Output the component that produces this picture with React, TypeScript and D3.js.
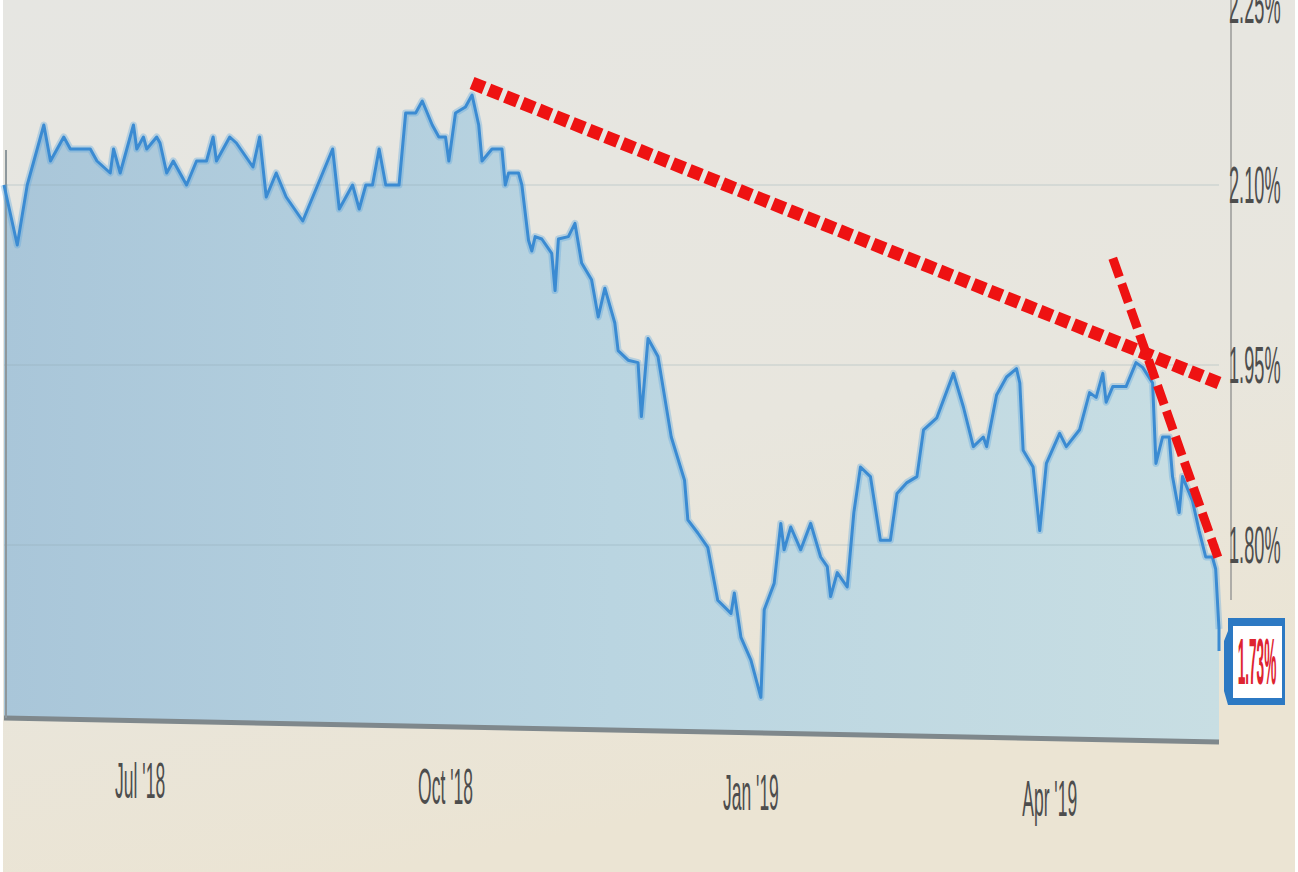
import React from "react";
import * as d3 from "d3";

// ---- data ----
const dates = [
  "2018-05-21","2018-05-25","2018-05-28","2018-06-02","2018-06-04","2018-06-08","2018-06-10","2018-06-16",
  "2018-06-18","2018-06-22","2018-06-23","2018-06-25","2018-06-29","2018-06-30","2018-07-02","2018-07-03",
  "2018-07-06","2018-07-07","2018-07-09","2018-07-11","2018-07-15","2018-07-18","2018-07-21","2018-07-23",
  "2018-07-24","2018-07-28","2018-07-30","2018-08-04","2018-08-06","2018-08-08","2018-08-11","2018-08-14",
  "2018-08-19","2018-08-28","2018-08-30","2018-09-03","2018-09-05","2018-09-07","2018-09-09","2018-09-11",
  "2018-09-13","2018-09-17","2018-09-19","2018-09-22","2018-09-24","2018-09-27","2018-09-29","2018-10-01",
  "2018-10-02","2018-10-04","2018-10-07","2018-10-09","2018-10-11","2018-10-12","2018-10-15","2018-10-18",
  "2018-10-19","2018-10-20","2018-10-23","2018-10-24","2018-10-26","2018-10-27","2018-10-28","2018-10-30",
  "2018-11-02","2018-11-03","2018-11-04","2018-11-07","2018-11-09","2018-11-11","2018-11-14","2018-11-16",
  "2018-11-18","2018-11-21","2018-11-22","2018-11-25","2018-11-28","2018-11-29","2018-12-01","2018-12-04",
  "2018-12-08","2018-12-12","2018-12-13","2018-12-16","2018-12-19","2018-12-22","2018-12-26","2018-12-27",
  "2018-12-29","2019-01-01","2019-01-04","2019-01-05","2019-01-08","2019-01-10","2019-01-11","2019-01-13",
  "2019-01-16","2019-01-19","2019-01-22","2019-01-24","2019-01-25","2019-01-27","2019-01-30","2019-02-01",
  "2019-02-03","2019-02-06","2019-02-09","2019-02-12","2019-02-14","2019-02-17","2019-02-20","2019-02-22",
  "2019-02-26","2019-03-03","2019-03-06","2019-03-09","2019-03-12","2019-03-13","2019-03-16","2019-03-19",
  "2019-03-22","2019-03-23","2019-03-24","2019-03-27","2019-03-29","2019-03-31","2019-04-04","2019-04-06",
  "2019-04-10","2019-04-13","2019-04-15","2019-04-17","2019-04-18","2019-04-20","2019-04-24","2019-04-27",
  "2019-04-29","2019-05-02","2019-05-03","2019-05-05","2019-05-07","2019-05-08","2019-05-10","2019-05-11",
  "2019-05-14","2019-05-16","2019-05-18","2019-05-20","2019-05-21","2019-05-22",
];
const yields = [
  2.10, 2.05, 2.10, 2.15, 2.12, 2.14, 2.13, 2.13,
  2.12, 2.11, 2.13, 2.11, 2.15, 2.13, 2.14, 2.13,
  2.14, 2.135, 2.11, 2.12, 2.10, 2.12, 2.12, 2.14,
  2.12, 2.14, 2.135, 2.115, 2.14, 2.09, 2.11, 2.09,
  2.07, 2.13, 2.08, 2.10, 2.08, 2.10, 2.10, 2.13,
  2.10, 2.10, 2.16, 2.16, 2.17, 2.15, 2.14, 2.14,
  2.12, 2.16, 2.165, 2.175, 2.15, 2.12, 2.13, 2.13,
  2.10, 2.11, 2.11, 2.10, 2.054, 2.045, 2.057, 2.055,
  2.043, 2.012, 2.055, 2.057, 2.068, 2.035, 2.021, 1.99,
  2.014, 1.985, 1.962, 1.954, 1.952, 1.907, 1.972, 1.957,
  1.89, 1.854, 1.821, 1.81, 1.798, 1.754, 1.743, 1.76,
  1.723, 1.704, 1.673, 1.746, 1.768, 1.818, 1.796, 1.815,
  1.796, 1.818, 1.79, 1.782, 1.757, 1.777, 1.765, 1.827,
  1.865, 1.857, 1.804, 1.804, 1.843, 1.852, 1.857, 1.896,
  1.906, 1.943, 1.915, 1.882, 1.89, 1.882, 1.925, 1.94,
  1.947, 1.935, 1.879, 1.865, 1.812, 1.868, 1.893, 1.882,
  1.896, 1.927, 1.923, 1.943, 1.919, 1.932, 1.932, 1.952,
  1.948, 1.935, 1.868, 1.89, 1.89, 1.857, 1.827, 1.857,
  1.837, 1.812, 1.79, 1.79, 1.78, 1.73,
];

// red dashed trend lines drawn on the screen
const trendADates = ["2018-10-09", "2019-05-22"];
const trendAValues = [2.185, 1.935];
const trendBDates = ["2019-04-20", "2019-05-22"];
const trendBValues = [2.039, 1.787];

const yTicks = [1.8, 1.95, 2.1, 2.25];
const yTickLabels = ["1.80%", "1.95%", "2.10%", "2.25%"];
const xTicks = ["2018-07-01", "2018-10-01", "2019-01-01", "2019-04-01"];
const xTickLabels = ["Jul '18", "Oct '18", "Jan '19", "Apr '19"];
const lastLabel = "1.73%";

const W = 1298;
const H = 872;

export default function App() {
  const parse = d3.timeParse("%Y-%m-%d");
  const series = dates.map((d, i) => ({ date: parse(d) as Date, value: yields[i] }));
  const trendA = trendADates.map((d, i) => ({ date: parse(d) as Date, value: trendAValues[i] }));
  const trendB = trendBDates.map((d, i) => ({ date: parse(d) as Date, value: trendBValues[i] }));

  const x = d3
    .scaleTime()
    .domain([parse("2018-05-21") as Date, parse("2019-05-22") as Date])
    .range([4, 1219]);
  const y = d3.scaleLinear().domain([1.8, 2.1]).range([545, 185]);
  // the photographed screen makes the bottom edge slope slightly
  const base = d3.scaleLinear().domain([4, 1219]).range([718, 742]);

  const area = d3
    .area<{ date: Date; value: number }>()
    .x((d) => x(d.date))
    .y0((d) => base(x(d.date)))
    .y1((d) => y(d.value));
  const line = d3
    .line<{ date: Date; value: number }>()
    .x((d) => x(d.date))
    .y((d) => y(d.value));

  const last = series[series.length - 1];
  const boxCY = y(last.value) + 32;
  const x0 = x.range()[0];
  const x1 = x.range()[1];

  return (
    <svg
      width={W}
      height={H}
      style={{ position: "absolute", left: 0, top: 0, display: "block" }}
      fontFamily="'Liberation Sans', Arial, sans-serif"
    >
      <defs>
        <linearGradient id="bg" x1="0" y1="0" x2="0.3" y2="1">
          <stop offset="0" stopColor="#e6e6e2" />
          <stop offset="0.6" stopColor="#e8e6de" />
          <stop offset="1" stopColor="#ebe4d3" />
        </linearGradient>
        <linearGradient id="fill" x1="0" y1="0" x2="1" y2="0">
          <stop offset="0" stopColor="#a9c6d9" />
          <stop offset="0.5" stopColor="#bad5e1" />
          <stop offset="1" stopColor="#c8dee3" />
        </linearGradient>
      </defs>
      <rect x={0} y={0} width={W} height={H} fill="url(#bg)" />
      <rect x={0} y={0} width={3} height={H} fill="#ffffff" />
      <rect x={W - 3} y={0} width={3} height={H} fill="#ffffff" />

      {/* area */}
      <path d={area(series) || ""} fill="url(#fill)" />

      {/* gridlines */}
      {yTicks.slice(0, 3).map((t) => (
        <line
          key={t}
          x1={x0}
          x2={x1}
          y1={y(t)}
          y2={y(t)}
          stroke="#8aa3b0"
          strokeOpacity={0.2}
          strokeWidth={2}
        />
      ))}

      {/* baseline */}
      <line x1={x0} x2={x1} y1={base(x0)} y2={base(x1)} stroke="#7f888c" strokeWidth={5} />
      <line x1={x0 + 2} x2={x0 + 2} y1={150} y2={base(x0)} stroke="#8d979c" strokeWidth={2} />

      {/* right axis line */}
      <line x1={1231} x2={1231} y1={0} y2={600} stroke="#9a9a98" strokeWidth={1.5} />

      {/* series line */}
      <path d={line(series) || ""} fill="none" stroke="#5aa2dc" strokeOpacity={0.35} strokeWidth={7} strokeLinejoin="round" />
      <path d={line(series) || ""} fill="none" stroke="#3b8bd2" strokeWidth={3} strokeLinejoin="round" />
      <line
        x1={x(last.date)}
        x2={x(last.date)}
        y1={y(last.value)}
        y2={boxCY - 10}
        stroke="#3b8bd2"
        strokeWidth={3}
      />

      {/* y tick labels */}
      {yTicks.map((t, i) => (
        <text
          key={t}
          transform={`translate(1229, ${y(t) + 18}) scale(0.35, 1)`}
          fontSize={52}
          fill="#4d4d4d"
        >
          {yTickLabels[i]}
        </text>
      ))}

      {/* x tick labels */}
      {xTicks.map((t, i) => {
        const px = x(parse(t) as Date);
        return (
          <text
            key={t}
            transform={`translate(${px}, ${base(px) + 77}) scale(0.35, 1)`}
            fontSize={50}
            fill="#4d4d4d"
            textAnchor="middle"
          >
            {xTickLabels[i]}
          </text>
        );
      })}

      {/* trend lines */}
      <path
        d={line(trendA) || ""}
        fill="none"
        stroke="#ee1212"
        strokeWidth={13}
        strokeDasharray="13 5"
      />
      <path
        d={line(trendB) || ""}
        fill="none"
        stroke="#ee1212"
        strokeWidth={9}
        strokeDasharray="20 7"
      />

      {/* last value tag */}
      <path
        d={`M1228,${boxCY - 43} L1285,${boxCY - 43} L1285,${boxCY + 44} L1228,${boxCY + 44} L1224,${boxCY + 30} L1224,${boxCY - 20} L1228,${boxCY - 30} Z`}
        fill="#2c79c3"
      />
      <rect x={1233} y={boxCY - 35} width={49} height={72} fill="#ffffff" />
      <text
        transform={`translate(1257, ${boxCY + 23}) scale(0.21, 1)`}
        fontSize={65}
        fontWeight="bold"
        fill="#de2430"
        textAnchor="middle"
      >
        {lastLabel}
      </text>
    </svg>
  );
}
